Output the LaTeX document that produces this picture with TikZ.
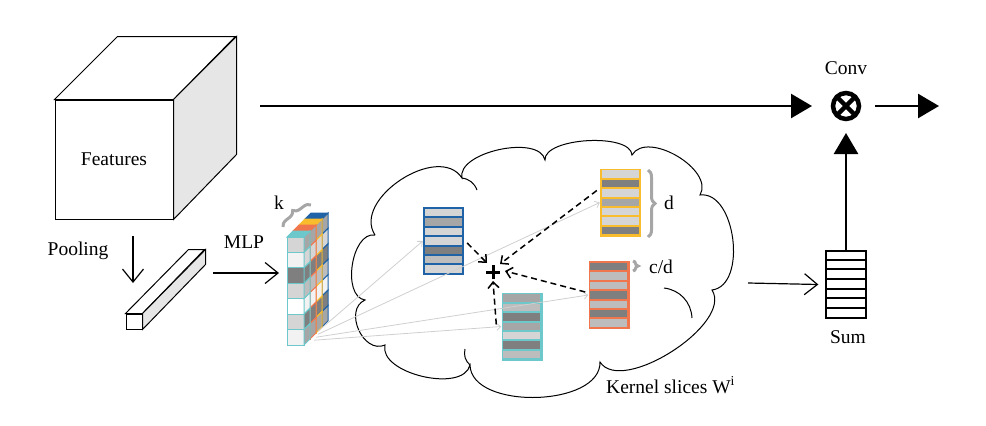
\documentclass[tikz,border=0pt]{standalone}
\usepackage{fontspec}
\setmainfont{Liberation Serif}
\usetikzlibrary{arrows.meta,decorations.pathreplacing,calc}
\definecolor{cteal}{HTML}{6CC8CA}
\definecolor{corange}{HTML}{F0764E}
\definecolor{cyellow}{HTML}{F8BC2C}
\definecolor{cblue}{HTML}{1F63A6}
\definecolor{ga}{HTML}{D5D5D5}
\definecolor{gb}{HTML}{A6A6A6}
\definecolor{gc}{HTML}{7F7F7F}
\definecolor{gd}{HTML}{BDBDBD}
\definecolor{ge}{HTML}{F2F2F2}
\definecolor{faceg}{HTML}{E6E6E6}
\definecolor{thinline}{HTML}{CFCFCF}
\definecolor{bracec}{HTML}{A6A6A6}
\tikzset{
  lbl/.style={font=\fontsize{19.5pt}{23pt}\selectfont, inner sep=0pt},
  openarrow/.style={-{Straight Barb[length=13pt,width=21pt]}, line width=1.2pt},
  bigarrow/.style={-{Triangle[length=21pt,width=24pt]}, line width=2.6pt},
  dasharrow/.style={-{Straight Barb[length=6pt,width=11pt]}, line width=1.5pt, dash pattern=on 6pt off 4pt},
  greyarrow/.style={-{Straight Barb[length=4pt,width=7pt]}, line width=0.8pt, draw=thinline},
  slicenode/.style={minimum width=41pt, minimum height=68pt, inner sep=0pt},
  bracedeco/.style={draw=bracec, line width=3pt, decorate, decoration={brace, amplitude=#1}},
  lobe/.style={bend left=90, looseness=#1},
}
\newcommand\kslicecells[2]{%
  \foreach \f [count=\k from 0] in {#2}{
    \fill[\f] ($(#1.north west)+(2,2+\k*9.43)$) rectangle ++(37,7.43);
  }%
}
\begin{document}
\begin{tikzpicture}[x=1pt,y=-1pt]
\useasboundingbox (0,0) rectangle (986,426);

% ---- Features cube
\node[draw, line width=1pt, minimum width=118pt, minimum height=119pt, inner sep=0pt, lbl] (cube) at (114,159.5) {Features};
\draw[line width=1pt, fill=white] (cube.north west) -- ++(63,-63) -- ++(118,0) -- (cube.north east) -- cycle;
\draw[line width=1pt, fill=faceg] (cube.north east) -- ++(63,-63) -- ++(0,118) -- (cube.south east) -- cycle;

% ---- pooled bar
\node[draw, line width=1pt, minimum width=16pt, minimum height=15pt, inner sep=0pt] (bar) at (134,321.5) {};
\draw[line width=1pt, fill=white] (bar.north west) -- ++(63,-64) -- ++(16,0) -- (bar.north east) -- cycle;
\draw[line width=1pt, fill=faceg] (bar.north east) -- ++(63,-64) -- ++(0,15) -- (bar.south east) -- cycle;

\node[lbl] (pooling) at (78,251) {Pooling};
\coordinate (poolA) at (133,236);
\coordinate (poolB) at (133,283);
\draw[openarrow] (poolA) -- (poolB);

\node[lbl] (mlp) at (244,242) {MLP};
\coordinate (mlpA) at (213,273);
\coordinate (mlpB) at (279,273);
\draw[openarrow] (mlpA) -- (mlpB);

% ---- MLP stack
\foreach \i/\c in {3/cblue,2/cyellow,1/corange,0/cteal}{
  \pgfmathsetmacro\X{287+6*\i}
  \pgfmathsetmacro\Y{237-6*\i}
  \foreach \f [count=\k from 0] in {ga,ge,gc,ga,white,ga,ge}{
    \draw[draw=\c, fill=\f, line width=1pt] (\X,\Y+\k*15.43) rectangle ++(17,15.43);
  }
  \foreach \f [count=\k from 0] in {gb,ga,gc,gd,ge,gc,gb}{
    \draw[draw=\c, fill=\f, line width=1pt] (\X+17,\Y+\k*15.43) -- ++(6,-6) -- ++(0,15.43) -- ++(-6,6) -- cycle;
  }
  \draw[draw=\c, fill=\c, line width=1pt] (\X,\Y) -- ++(17,0) -- ++(6,-6) -- ++(-17,0) -- cycle;
}
\node[minimum width=17pt, minimum height=108pt, inner sep=0pt] (stack) at (295.5,291) {};
\node[lbl] (klabel) at (279,203) {k};
\coordinate (kA) at (283,227);
\coordinate (kB) at (311,205);
\draw[bracedeco=7pt] (kA) -- (kB);

% ---- cloud
\draw[line width=1pt] (375,235)
  to[lobe=1.05] (462,178)
  to[lobe=0.80] (545,160)
  to[lobe=0.66] (632,155)
  to[lobe=0.95] (700,195)
  to[lobe=0.96] (712,290)
  to[lobe=0.77] (600,362)
  to[lobe=0.89] (470,365)
  to[lobe=0.86] (385,345)
  to[lobe=1.24] (365,300)
  to[lobe=0.93] (375,235);
% creases
\draw[line width=1pt] (664,288) to[bend left=40] (692,318);
\draw[line width=1pt] (462,178) to[bend left=30] (477,190);
\draw[line width=1pt] (470,365) to[bend left=30] (465,349);
\node[lbl, anchor=west] (kernel) at (606,385) {Kernel slices W\textsuperscript{i}};

% ---- kernel slices
\node[slicenode, fill=cblue] (sb) at (443.5,241) {};
\kslicecells{sb}{ga,gb,ga,ga,gc,gd,ga}
\node[slicenode, fill=cyellow] (sy) at (620.5,202.5) {};
\kslicecells{sy}{ga,gc,ga,gb,ga,ga,gc}
\node[slicenode, fill=corange] (so) at (609,295) {};
\kslicecells{so}{gc,gd,gd,gc,gd,gc,gd}
\node[slicenode, fill=cteal] (st) at (522,326.5) {};
\kslicecells{st}{gb,gd,gc,gb,ga,gc,gd}

% braces
\coordinate (dA) at (648,170);
\coordinate (dB) at (648,237);
\draw[bracedeco=7pt] (dA) -- (dB);
\node[lbl] (dlabel) at (669,203) {d};
\coordinate (cA) at (633,261);
\coordinate (cB) at (633,271);
\draw[bracedeco=5pt] (cA) -- (cB);
\node[lbl] (cdlabel) at (661,267) {c/d};

% grey lines from stack to slices
\draw[greyarrow] ([shift={(14,-14)}]stack.south east) -- (sb.west);
\draw[greyarrow] ([shift={(14,-11)}]stack.south east) -- (sy.west);
\draw[greyarrow] ([shift={(12,-8)}]stack.south east) -- (so.west);
\draw[greyarrow] ([shift={(10,-5)}]stack.south east) -- (st.west);

% plus
\coordinate (plus) at (493,272);
\draw[line width=3pt] ([xshift=-7pt]plus) -- ([xshift=7pt]plus);
\draw[line width=3pt] ([yshift=-7pt]plus) -- ([yshift=7pt]plus);

% dashed arrows
\draw[dasharrow] ([shift={(3,2)}]sb.east) -- ([shift={(-6,-9)}]plus);
\draw[dasharrow] ([shift={(-3,-12)}]sy.west) -- ([shift={(7,-8)}]plus);
\draw[dasharrow] ([shift={(-3,-3)}]so.west) -- ([shift={(12,-1)}]plus);
\draw[dasharrow] ([shift={(-5,-2)}]st.west) -- ([shift={(0,9)}]plus);

% ---- sum
\node[draw, line width=1.3pt, minimum width=40pt, minimum height=67pt, inner sep=0pt] (sum) at (846,284.5) {};
\foreach \k in {1,...,6}{
  \draw[line width=2pt] ($(sum.north west)+(0,\k*9.57)$) -- ++(40,0);
}
\node[lbl] (sumlabel) at (848,337) {Sum};
\coordinate (cloudout) at (748,283);
\draw[openarrow] (cloudout) -- ([xshift=-7pt]sum.west);

% ---- conv
\coordinate (conv) at (846,106);
\draw[line width=4.5pt] (conv) circle (13);
\draw[line width=4.5pt] ($(conv)+(-9,-9)$) -- ($(conv)+(9,9)$);
\draw[line width=4.5pt] ($(conv)+(-9,9)$) -- ($(conv)+(9,-9)$);
\node[lbl] (convlabel) at (846,68) {Conv};
\coordinate (mainA) at (260,106);
\draw[bigarrow] (mainA) -- ($(conv)+(-34,0)$);
\coordinate (outB) at (939,106);
\draw[bigarrow] ($(conv)+(29,0)$) -- (outB);
\draw[bigarrow] (sum.north) -- ($(conv)+(0,27)$);
\end{tikzpicture}
\end{document}
